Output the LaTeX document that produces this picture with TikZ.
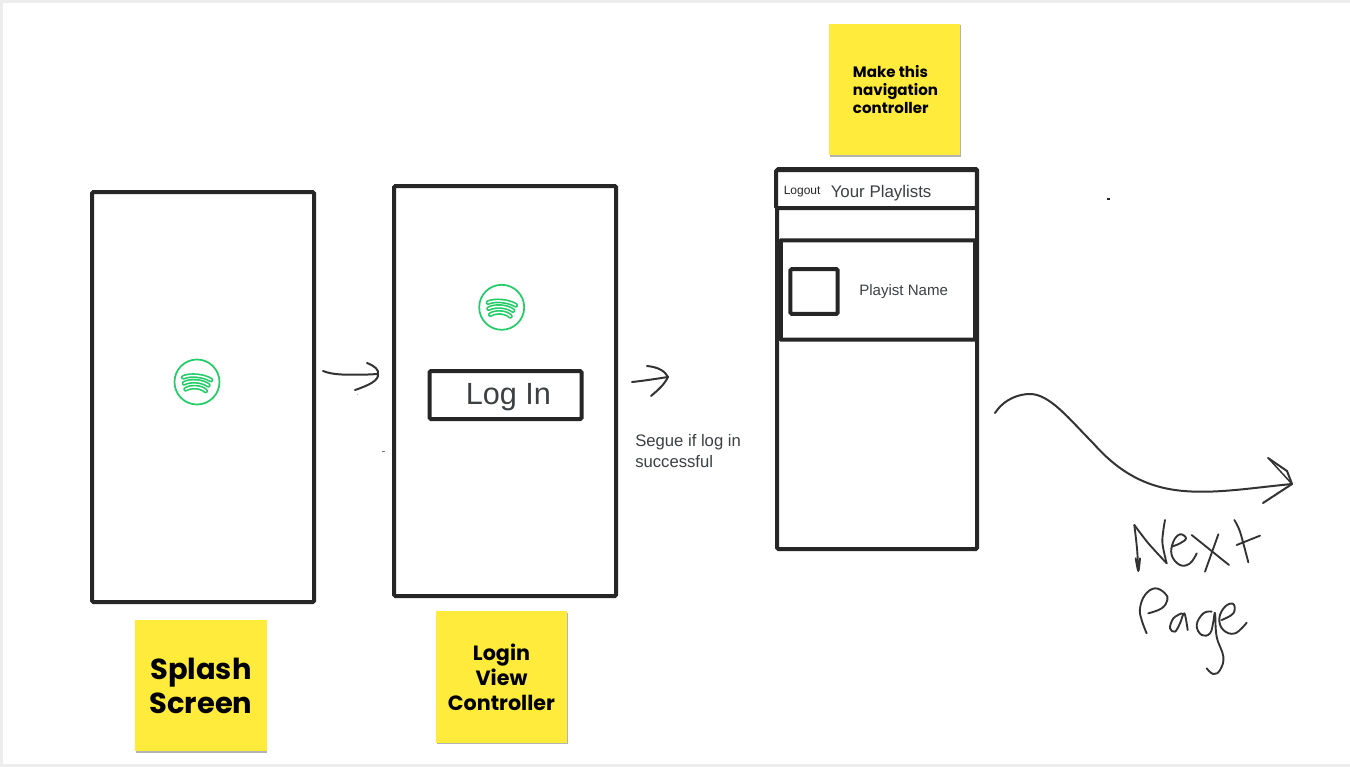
\documentclass[tikz,border=0pt]{standalone}
\usepackage{fontspec}
\setmainfont{Liberation Sans}
\newfontfamily\stickyfont{Poppins}
\usetikzlibrary{shadows}
\definecolor{ink}{HTML}{262626}
\definecolor{penink}{HTML}{333333}
\definecolor{txt}{HTML}{3C4043}
\definecolor{sticky}{HTML}{FFEB3B}
\definecolor{spot}{HTML}{22CC66}
\definecolor{edge}{HTML}{EDEDED}
\tikzset{
  px/.style={x=0.75pt,y=-0.75pt},
  frame/.style={draw=ink,line width=3pt,rounded corners=1pt,fill=white,inner sep=0pt,outer sep=0pt},
  stickynote/.style={fill=sticky,inner sep=0pt,minimum width=98.5pt,minimum height=98.5pt,align=center,
    text=black,drop shadow={shadow xshift=0.6pt,shadow yshift=-1.2pt,opacity=.3,fill=black}},
  label/.style={text=txt,inner sep=0pt,anchor=base west},
  hand/.style={draw=penink,line width=1.5pt,line cap=round,line join=round},
  handw/.style={draw=penink,line width=1.4pt,line cap=round,line join=round},
  logo arc/.style={line cap=round},
}
\newcommand{\spotlogo}[1]{%
  \draw[spot,line width=1.3pt] (#1) circle[radius=22.5];
  \foreach \ya/\yb/\yc/\xa/\xc in {-4.7/-8/-2/-13.7/14, 1.3/-2.7/3.3/-13/11.3, 7.3/3.3/9/-11.3/8.7}{
    \path (#1) ++(\xa,\ya) coordinate (la) (#1) ++(0,\yb) coordinate (lb) (#1) ++(\xc,\yc) coordinate (lc);
    \draw[spot,line width=3.6pt,logo arc] (la) .. controls ($(la)!.5!(lb)+(0,-1.5)$) and ($(lb)!.5!(lc)+(0,-1.5)$) .. (lc);
    \draw[white,line width=1.1pt,logo arc] (la) .. controls ($(la)!.5!(lb)+(0,-1.5)$) and ($(lb)!.5!(lc)+(0,-1.5)$) .. (lc);
  }}
\usetikzlibrary{calc}
\begin{document}
\begin{tikzpicture}[px]
\useasboundingbox (0,0) rectangle (1350,767);
\fill[white] (0,0) rectangle (1350,767);
\fill[edge] (0,0) rectangle (1350,3);
\fill[edge] (0,0) rectangle (2.5,767);
\fill[edge] (0,764) rectangle (1350,767);

% screens
\node[frame,minimum width=166.5pt,minimum height=307.5pt] (splash) at (203,397) {};
\node[frame,minimum width=166.5pt,minimum height=307.5pt] (login) at (505,391) {};
\node[frame,minimum width=150pt,minimum height=285pt] (list) at (877,359) {};
\node[frame,minimum width=150.5pt,minimum height=28.5pt] (navbar) at (876.5,189) {};
\node[frame,minimum width=146.5pt,minimum height=74.5pt] (row) at (877.5,290) {};
\node[frame,minimum width=35.5pt,minimum height=33.5pt] (thumb) at (814,291.5) {};
\node[frame,minimum width=114pt,minimum height=36pt] (loginbtn) at (505.5,395) {};
\draw[ink,line width=3pt] (row.north west) ++(1.5,0) -- ++(0,99);

% logos
\coordinate (logoa) at (197,382);
\coordinate (logob) at (501.7,307.3);
\spotlogo{logoa}
\spotlogo{logob}

% labels
\node[label,font=\fontsize{23}{26}\selectfont] (logintxt) at (465.5,404) {Log In};
\node[label,font=\fontsize{9}{11}\selectfont,text=ink] (logouttxt) at (783.5,194) {Logout};
\node[label,font=\fontsize{12.65}{15}\selectfont] (yourtxt) at (830.5,197) {Your Playlists};
\node[label,font=\fontsize{11.3}{13}\selectfont] (nametxt) at (859,295) {Playist Name};
\node[label,font=\fontsize{12.5}{15.8}\selectfont,align=left,anchor=north west] (seguetxt) at (635,434) {Segue if log in\\successful};

% sticky notes
\node[stickynote,font=\stickyfont\bfseries\fontsize{21.7}{25.5}\selectfont] (n1) at (201,685.5) {Splash\\Screen};
\node[stickynote,font=\stickyfont\bfseries\fontsize{15.5}{18.8}\selectfont] (n2) at (501.5,677) {Login\\View\\Controller};
\node[stickynote,font=\stickyfont\bfseries\fontsize{11.3}{13.5}\selectfont,align=left] (n3) at (894.5,89.5) {\hspace*{1.5pt}Make this\\\hspace*{1.5pt}navigation\\\hspace*{1.5pt}controller};

% hand drawn arrows
\coordinate (a1s) at (323,371);
\coordinate (a1e) at (378,374);
\draw[hand] (a1s) .. controls (333,375) and (345,375) .. (368,374.5) -- (a1e);
\draw[hand] (367,363) .. controls (375,366) and (379,370) .. (a1e) .. controls (379,380) and (370,385) .. (355,390);
\coordinate (a2s) at (632,382);
\coordinate (a2e) at (668,377);
\draw[hand] (a2s) .. controls (642,381) and (655,379) .. (a2e);
\draw[hand] (647,366) .. controls (658,367) and (665,371) .. (a2e) .. controls (664,385) and (658,390) .. (651,396);

\coordinate (a3s) at (995,413);
\coordinate (a3e) at (1292,484);
\draw[hand] (a3s) .. controls (1005,398) and (1020,394) .. (1030,394)
  .. controls (1050,394) and (1070,420) .. (1093,443)
  .. controls (1115,468) and (1140,485) .. (1175,490)
  .. controls (1210,495) and (1250,488) .. (a3e);
\draw[hand] (1268,458) -- (1287,471) -- (a3e) -- (1263,503);
\draw[hand,line width=1.1pt] (1270,460) -- (a3e);

% handwriting: Next
\begin{scope}[shift={(1125,515)},x=0.25pt,y=-0.25pt]
\draw[handw] plot[smooth,tension=.5] coordinates {(32,130) (40,168) (45,130)};
\draw[handw] plot[smooth,tension=.5] coordinates {(28,30) (36,100) (40,165)};
\draw[handw] plot[smooth,tension=.4] coordinates {(28,30) (70,85) (125,145)};
\draw[handw] plot[smooth,tension=.5] coordinates {(125,145) (112,80) (120,15)};
\draw[handw] plot[smooth,tension=.7] coordinates {(140,95) (165,85) (183,70) (165,58) (145,80) (140,120) (165,150) (195,145) (215,115)};
\draw[handw] (200,60) -- (312,150);
\draw[handw] (280,58) -- (240,170);
\draw[handw] plot[smooth,tension=.5] coordinates {(328,15) (345,50) (370,142)};
\draw[handw] (335,90) -- (405,62);
\end{scope}
% handwriting: Page
\begin{scope}[shift={(1125,580)},x=0.25pt,y=-0.25pt]
\draw[handw] plot[smooth,tension=.7] coordinates {(65,160) (50,120) (45,85) (60,45) (90,25) (120,40) (127,60) (110,85) (70,100)};
\draw[handw] plot[smooth,tension=.6] coordinates {(170,100) (145,115) (135,145) (150,155) (165,130) (178,100) (188,150)};
\draw[handw] plot[smooth,tension=.7] coordinates {(260,95) (235,100) (215,135) (230,165) (255,160) (265,125) (270,100) (275,170) (295,230) (285,270) (265,282) (245,265)};
\draw[handw] plot[smooth,tension=.7] coordinates {(290,120) (325,100) (325,72) (300,80) (283,115) (295,150) (330,160) (365,128)};
\end{scope}

% specks
\draw[gray,line width=.5pt] (382,451) -- (385,451);
\draw[gray!70,line width=.5pt] (357,394) -- (358,395);
\draw[ink,line width=.8pt] (1107,199) -- (1110,199);
\end{tikzpicture}
\end{document}
